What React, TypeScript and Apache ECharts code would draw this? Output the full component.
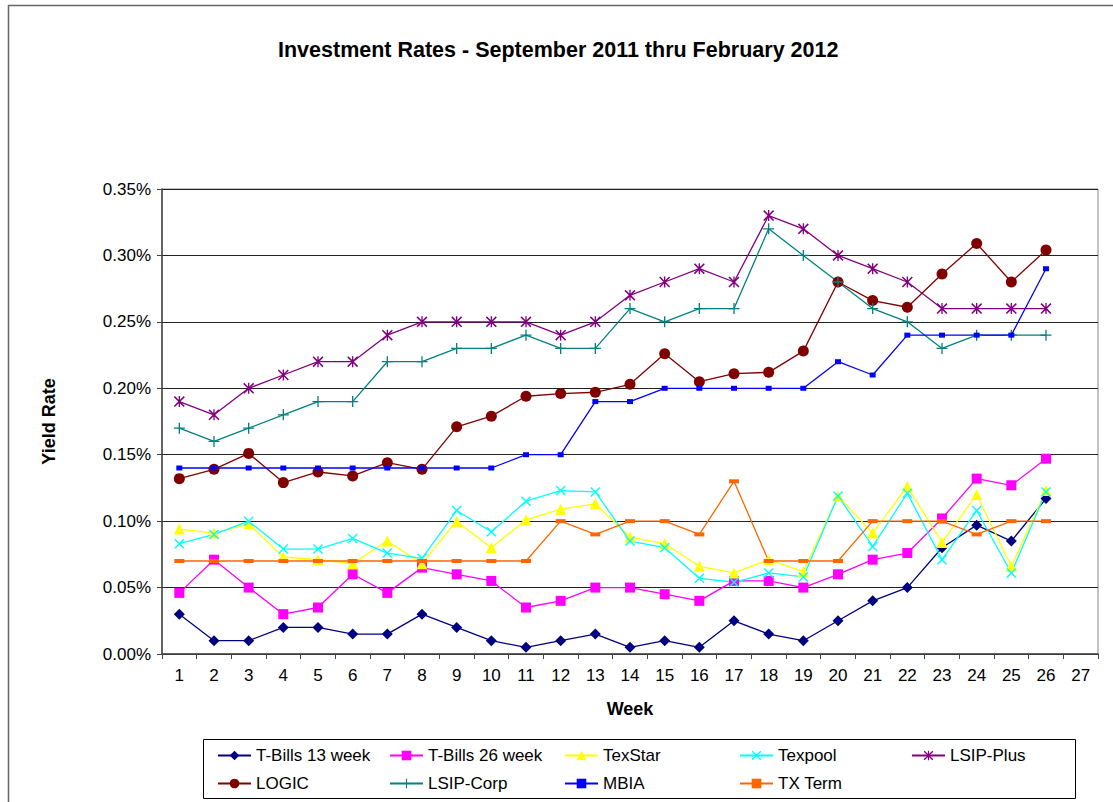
import React, { useEffect, useRef } from "react";
import * as echarts from "echarts";

const weeks = Array.from({ length: 27 }, (_, i) => String(i + 1));
const yTicks = { min: 0, max: 0.35, interval: 0.05 };

const tBills13 = [0.03, 0.01, 0.01, 0.02, 0.02, 0.015, 0.015, 0.03, 0.02, 0.01, 0.005, 0.01, 0.015, 0.005, 0.01, 0.005, 0.025, 0.015, 0.01, 0.025, 0.04, 0.05, 0.08, 0.097, 0.085, 0.117];
const tBills26 = [0.046, 0.071, 0.05, 0.03, 0.035, 0.06, 0.046, 0.065, 0.06, 0.055, 0.035, 0.04, 0.05, 0.05, 0.045, 0.04, 0.055, 0.055, 0.05, 0.06, 0.071, 0.076, 0.102, 0.132, 0.127, 0.147];
const texStar = [0.094, 0.091, 0.098, 0.073, 0.071, 0.068, 0.085, 0.068, 0.1, 0.08, 0.101, 0.109, 0.113, 0.088, 0.083, 0.066, 0.061, 0.071, 0.062, 0.119, 0.091, 0.126, 0.084, 0.12, 0.066, 0.123];
const texpool = [0.083, 0.09, 0.1, 0.079, 0.079, 0.087, 0.076, 0.072, 0.108, 0.092, 0.115, 0.123, 0.122, 0.085, 0.08, 0.057, 0.054, 0.061, 0.058, 0.119, 0.081, 0.121, 0.071, 0.108, 0.061, 0.122];
const lsipPlus = [0.19, 0.18, 0.2, 0.21, 0.22, 0.22, 0.24, 0.25, 0.25, 0.25, 0.25, 0.24, 0.25, 0.27, 0.28, 0.29, 0.28, 0.33, 0.32, 0.3, 0.29, 0.28, 0.26, 0.26, 0.26, 0.26];
const logic = [0.132, 0.139, 0.151, 0.129, 0.137, 0.134, 0.144, 0.139, 0.171, 0.179, 0.194, 0.196, 0.197, 0.203, 0.226, 0.205, 0.211, 0.212, 0.228, 0.28, 0.266, 0.261, 0.286, 0.309, 0.28, 0.304];
const lsipCorp = [0.17, 0.16, 0.17, 0.18, 0.19, 0.19, 0.22, 0.22, 0.23, 0.23, 0.24, 0.23, 0.23, 0.26, 0.25, 0.26, 0.26, 0.32, 0.3, 0.28, 0.26, 0.25, 0.23, 0.24, 0.24, 0.24];
const mbia = [0.14, 0.14, 0.14, 0.14, 0.14, 0.14, 0.14, 0.14, 0.14, 0.14, 0.15, 0.15, 0.19, 0.19, 0.2, 0.2, 0.2, 0.2, 0.2, 0.22, 0.21, 0.24, 0.24, 0.24, 0.24, 0.29];
const txTerm = [0.07, 0.07, 0.07, 0.07, 0.07, 0.07, 0.07, 0.07, 0.07, 0.07, 0.07, 0.1, 0.09, 0.1, 0.1, 0.09, 0.13, 0.07, 0.07, 0.07, 0.1, 0.1, 0.1, 0.09, 0.1, 0.1];

const X_PATH = "path://M0,1 L1,0 L5,4 L9,0 L10,1 L6,5 L10,9 L9,10 L5,6 L1,10 L0,9 L4,5 Z";
const STAR_PATH = "path://M0,1 L1,0 L5,4 L9,0 L10,1 L6,5 L10,9 L9,10 L5,6 L1,10 L0,9 L4,5 Z M4.4,0 L5.6,0 L5.6,10 L4.4,10 Z";
const PLUS_PATH = "path://M4.4,0 L5.6,0 L5.6,4.4 L10,4.4 L10,5.6 L5.6,5.6 L5.6,10 L4.4,10 L4.4,5.6 L0,5.6 L0,4.4 L4.4,4.4 Z";

const seriesDefs = [
  { name: "T-Bills 13 week", data: tBills13, color: "#000080", symbol: "diamond", size: 11, lx: 217, ly: 757 },
  { name: "T-Bills 26 week", data: tBills26, color: "#FF00FF", symbol: "rect", size: 10, lx: 389, ly: 757 },
  { name: "TexStar", data: texStar, color: "#FFFF00", symbol: "triangle", size: 11, lx: 564, ly: 757 },
  { name: "Texpool", data: texpool, color: "#00FFFF", symbol: X_PATH, size: 10, lx: 739, ly: 757 },
  { name: "LSIP-Plus", data: lsipPlus, color: "#800080", symbol: STAR_PATH, size: 11, lx: 911, ly: 757 },
  { name: "LOGIC", data: logic, color: "#800000", symbol: "circle", size: 11, lx: 217, ly: 785 },
  { name: "LSIP-Corp", data: lsipCorp, color: "#008080", symbol: PLUS_PATH, size: 11, lx: 389, ly: 785 },
  { name: "MBIA", data: mbia, color: "#0000FF", symbol: "rect", size: [6, 5], lx: 564, ly: 785 },
  { name: "TX Term", data: txTerm, color: "#FF6600", symbol: "rect", size: [10, 4], lx: 739, ly: 785 },
];

const FONT = "Liberation Sans, Arial, sans-serif";

export default function App() {
  const ref = useRef<HTMLDivElement>(null);
  useEffect(() => {
    if (!ref.current) return;
    const chart = echarts.init(ref.current, null, { renderer: "svg" });
    const option: any = {
      animation: false,
      backgroundColor: "#ffffff",
      textStyle: { fontFamily: FONT },
      title: {
        text: "Investment Rates - September 2011 thru February 2012",
        left: 273,
        top: 34,
        textStyle: { fontFamily: FONT, fontSize: 21.5, fontWeight: "bold", color: "#000" },
      },
      graphic: [
        {
          type: "rect",
          shape: { x: 8.5, y: 5.5, width: 1130, height: 820 },
          style: { fill: "none", stroke: "#666", lineWidth: 1.5 },
          silent: true,
        },
        {
          type: "rect",
          shape: { x: 203.5, y: 739.5, width: 872, height: 59 },
          style: { fill: "none", stroke: "#000", lineWidth: 1 },
          silent: true,
        },
      ],
      legend: seriesDefs.map((s) => ({
        data: [s.name],
        left: s.lx,
        top: s.ly - 10,
        itemWidth: 33,
        itemHeight: 12,
        padding: 0,
        selectedMode: false,
        textStyle: { fontFamily: FONT, fontSize: 17, color: "#000" },
      })),
      grid: {
        left: 162,
        right: 15,
        top: 189,
        bottom: 148,
        show: true,
        borderColor: "#888",
        borderWidth: 1,
        backgroundColor: "transparent",
      },
      xAxis: {
        type: "category",
        data: weeks,
        boundaryGap: true,
        name: "Week",
        nameLocation: "middle",
        nameGap: 46,
        nameTextStyle: { fontFamily: FONT, fontSize: 18, fontWeight: "bold", color: "#000" },
        axisLine: { lineStyle: { color: "#444", width: 1.5 } },
        axisTick: { show: true, length: 5, lineStyle: { color: "#444" }, interval: 0 },
        axisLabel: { interval: 0, fontFamily: FONT, fontSize: 17, color: "#000", margin: 13 },
        splitLine: { show: false },
      },
      yAxis: {
        type: "value",
        min: yTicks.min,
        max: yTicks.max,
        interval: yTicks.interval,
        name: "Yield Rate",
        nameLocation: "middle",
        nameGap: 104,
        nameRotate: 90,
        nameTextStyle: { fontFamily: FONT, fontSize: 18, fontWeight: "bold", color: "#000" },
        axisLine: { show: true, lineStyle: { color: "#444", width: 1.5 } },
        axisTick: { show: true, length: 5, lineStyle: { color: "#444" } },
        axisLabel: {
          fontFamily: FONT,
          fontSize: 17,
          color: "#000",
          margin: 11,
          formatter: (v: number) => v.toFixed(2) + "%",
        },
        splitLine: { show: true, lineStyle: { color: "#222", width: 1 } },
      },
      series: seriesDefs.map((s) => ({
        name: s.name,
        type: "line",
        data: s.data,
        symbol: s.symbol,
        symbolSize: s.size,
        showAllSymbol: true,
        lineStyle: { color: s.color, width: 1.3 },
        itemStyle: { color: s.color, borderWidth: 0 },
        emphasis: { disabled: true },
      })),
    };
    chart.setOption(option);
    return () => chart.dispose();
  }, []);
  return (
    <div
      ref={ref}
      style={{ position: "fixed", left: 0, top: 0, width: 1113, height: 802, background: "#fff" }}
    />
  );
}
